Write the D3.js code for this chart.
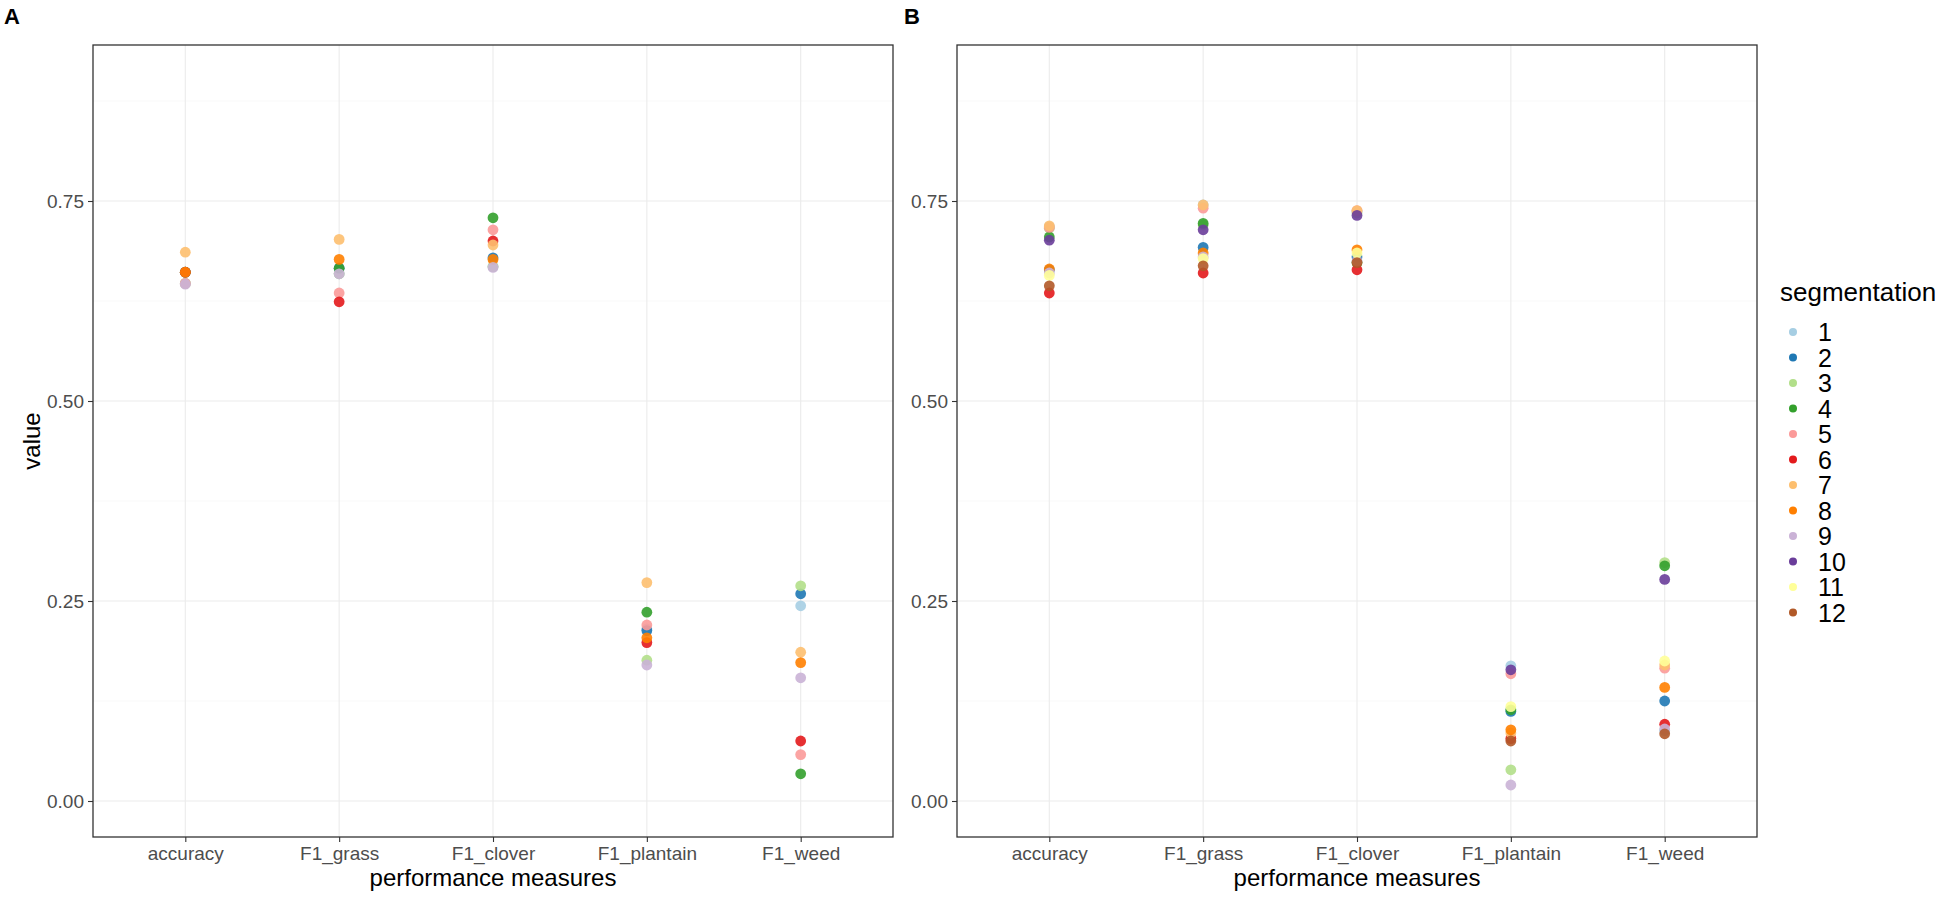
<!DOCTYPE html>
<meta charset="utf-8">
<script src="https://cdn.jsdelivr.net/npm/d3@7"></script>
<style>
body { margin: 0; background: #fff; }
.axis text { fill: #4d4d4d; font-size: 19px; font-family: "Liberation Sans", Arial, sans-serif; }
.axis line { stroke: #333; stroke-width: 1.1; }
.axis path { display: none; }
.grid-major { stroke: #ebebeb; stroke-width: 1.1; }
.grid-minor { stroke: #f5f5f5; stroke-width: 0.6; }
.frame { fill: none; stroke: #333; stroke-width: 1.3; }
.title { font-family: "Liberation Sans", Arial, sans-serif; font-size: 24px; fill: #000; }
.tag { font-family: "Liberation Sans", Arial, sans-serif; font-size: 22px; font-weight: bold; fill: #000; }
</style>
<body>
<div id="container"></div>
<script>
//------------------------------DATA------------------------------//
const categories = ["accuracy", "F1_grass", "F1_clover", "F1_plantain", "F1_weed"];
const segments = ["1", "2", "3", "4", "5", "6", "7", "8", "9", "10", "11", "12"];
const yTicks = [0, 0.25, 0.5, 0.75];

// panel A: one array per segmentation (1..9), values per category
const valuesA = [
  [0.647, 0.659, 0.668, 0.215, 0.244],
  [0.661, 0.666, 0.679, 0.213, 0.259],
  [0.647, 0.659, 0.668, 0.176, 0.269],
  [0.661, 0.666, 0.729, 0.236, 0.034],
  [0.647, 0.635, 0.714, 0.220, 0.058],
  [0.661, 0.624, 0.700, 0.198, 0.075],
  [0.686, 0.702, 0.695, 0.273, 0.186],
  [0.661, 0.677, 0.677, 0.204, 0.173],
  [0.646, 0.659, 0.667, 0.170, 0.154]
];

// panel B: segmentation 1..12
const valuesB = [
  [0.718, 0.745, 0.737, 0.169, 0.088],
  [0.664, 0.692, 0.680, 0.112, 0.125],
  [0.716, 0.720, 0.735, 0.039, 0.298],
  [0.705, 0.722, 0.673, 0.114, 0.294],
  [0.717, 0.741, 0.738, 0.159, 0.166],
  [0.635, 0.660, 0.664, 0.078, 0.096],
  [0.719, 0.745, 0.738, 0.085, 0.170],
  [0.665, 0.685, 0.689, 0.089, 0.142],
  [0.660, 0.680, 0.675, 0.020, 0.090],
  [0.701, 0.714, 0.732, 0.164, 0.277],
  [0.657, 0.678, 0.685, 0.118, 0.175],
  [0.644, 0.669, 0.673, 0.075, 0.084]
];

//-----------------------------SETUP------------------------------//
const width = 1949, height = 902;
const panelTop = 45, panelBottom = 837;
const panelW = 800;

const svg = d3.select("#container").append("svg")
    .attr("width", width)
    .attr("height", height);

const color = d3.scaleOrdinal().domain(segments).range(d3.schemePaired);

const y = d3.scaleLinear().domain([-0.045, 0.945]).range([panelBottom, panelTop]);
const minor = [0.125, 0.375, 0.625, 0.875];

function drawPanel(left, values, tag, showYTitle) {
  const x = d3.scalePoint().domain(categories).range([left, left + panelW]).padding(0.6);
  const g = svg.append("g");

  // grid
  g.selectAll(".grid-minor").data(minor).enter().append("line")
    .attr("class", "grid-minor")
    .attr("x1", left).attr("x2", left + panelW)
    .attr("y1", d => y(d)).attr("y2", d => y(d));
  g.selectAll(".grid-major-y").data(yTicks).enter().append("line")
    .attr("class", "grid-major")
    .attr("x1", left).attr("x2", left + panelW)
    .attr("y1", d => y(d)).attr("y2", d => y(d));
  g.selectAll(".grid-major-x").data(categories).enter().append("line")
    .attr("class", "grid-major")
    .attr("x1", d => x(d)).attr("x2", d => x(d))
    .attr("y1", panelTop).attr("y2", panelBottom);

  // points, segmentation order so later ones sit on top
  values.forEach(function(row, i) {
    g.selectAll(null).data(row).enter().append("circle")
      .attr("cx", (d, j) => x(categories[j]))
      .attr("cy", d => y(d))
      .attr("r", 5.4)
      .style("fill", color(segments[i]))
      .style("opacity", 0.9);
  });

  g.append("rect").attr("class", "frame")
    .attr("x", left).attr("y", panelTop)
    .attr("width", panelW).attr("height", panelBottom - panelTop);

  // axes
  g.append("g").attr("class", "axis")
    .attr("transform", "translate(" + left + ",0)")
    .call(d3.axisLeft(y).tickValues(yTicks).tickFormat(d3.format(".2f")).tickSize(5).tickPadding(4));
  g.append("g").attr("class", "axis")
    .attr("transform", "translate(0," + panelBottom + ")")
    .call(d3.axisBottom(x).tickSize(5).tickPadding(5));

  g.append("text").attr("class", "title")
    .attr("x", left + panelW / 2).attr("y", 886)
    .attr("text-anchor", "middle")
    .text("performance measures");

  if (showYTitle) {
    g.append("text").attr("class", "title")
      .attr("transform", "translate(40," + ((panelTop + panelBottom) / 2) + ") rotate(-90)")
      .attr("text-anchor", "middle")
      .text("value");
  }

  svg.append("text").attr("class", "tag")
    .attr("x", tag === "A" ? 4 : 904).attr("y", 24)
    .text(tag);
}

drawPanel(93, valuesA, "A", true);
drawPanel(957, valuesB, "B", false);

//-----------------------------LEGEND-----------------------------//
const legend = svg.append("g").attr("transform", "translate(1780,0)");
legend.append("text").attr("class", "title")
  .attr("x", 0).attr("y", 301)
  .style("font-size", "26px")
  .text("segmentation");

const rows = legend.selectAll(".row").data(segments).enter().append("g")
  .attr("transform", (d, i) => "translate(0," + (332 + i * 25.5) + ")");
rows.append("circle")
  .attr("cx", 13).attr("cy", 0).attr("r", 4)
  .style("fill", d => color(d));
rows.append("text").attr("class", "title")
  .attr("x", 38).attr("y", 0).attr("dy", "0.36em")
  .style("font-size", "25px")
  .text(d => d);
</script>
</body>
